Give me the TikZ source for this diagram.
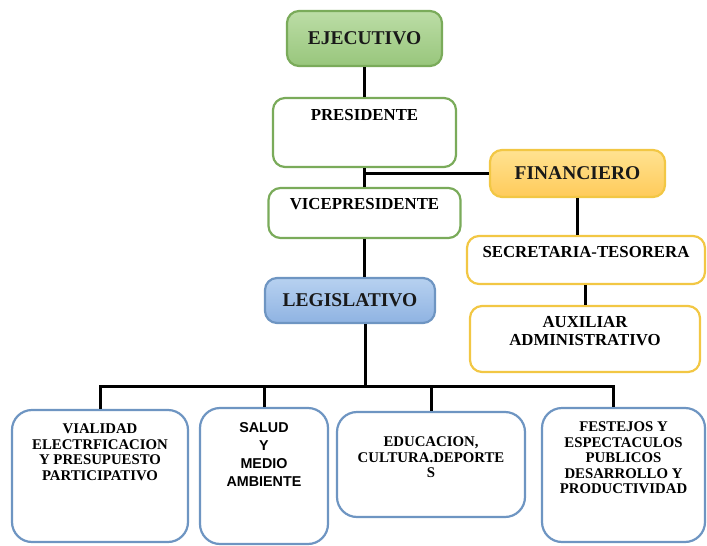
\documentclass[tikz,border=0pt]{standalone}
\usepackage{fontspec}
\setmainfont{Liberation Serif}
\newfontfamily\arialf{Liberation Sans}
\usepackage{tikz}
\usetikzlibrary{calc}
\usetikzlibrary{positioning}
\definecolor{grnline}{HTML}{7AAB5A}
\definecolor{grntop}{HTML}{BCDDA6}
\definecolor{grnbot}{HTML}{98C67C}
\definecolor{yelline}{HTML}{F2C744}
\definecolor{yeltop}{HTML}{FFE291}
\definecolor{yelbot}{HTML}{FFCB5A}
\definecolor{bluline}{HTML}{6E95C2}
\definecolor{blutop}{HTML}{B7D1F0}
\definecolor{blubot}{HTML}{8FB3E2}
\tikzset{
  org/.style={draw, line width=2.2pt, fill=white, rounded corners=12pt},
  grnbox/.style={org, draw=grnline},
  yelbox/.style={org, draw=yelline},
  blubox/.style={org, draw=bluline, rounded corners=20pt},
  head/.style={font=\bfseries\fontsize{19.5}{21}\selectfont, text=black!90},
  toptxt/.style={anchor=north, inner sep=0pt, align=center, font=\bfseries\fontsize{16.8}{18}\selectfont},
  smalltxt/.style={toptxt, font=\bfseries\fontsize{14.8}{15.5}\selectfont},
  conn/.style={line width=3pt, black}
}
\begin{document}
\begin{tikzpicture}[x=1pt,y=-1pt]
  \useasboundingbox (0,0) rectangle (707,546);
  % upper part
  \node[grnbox, head, top color=grntop, bottom color=grnbot, minimum width=155, minimum height=55] (ejec) at (364.5,38.5) {EJECUTIVO};
  \node[grnbox, minimum width=183, minimum height=69, label={[toptxt, yshift=-12]north:PRESIDENTE}] (pres) at (364.5,132.5) {};
  \node[grnbox, minimum width=192, minimum height=50, label={[toptxt, yshift=-11]north:VICEPRESIDENTE}] (vice) at (364.5,213) {};
  \node[yelbox, head, top color=yeltop, bottom color=yelbot, minimum width=175, minimum height=47] (fin) at (577.5,173.5) {FINANCIERO};
  \node[yelbox, minimum width=238, minimum height=48, label={[toptxt, yshift=-11]north:SECRETARIA-TESORERA}] (sec) at (586,260) {};
  \node[yelbox, minimum width=230, minimum height=66, label={[toptxt, yshift=-11]north:{AUXILIAR\\ADMINISTRATIVO}}] (aux) at (585,339) {};
  \node[org, draw=bluline, head, top color=blutop, bottom color=blubot, minimum width=170, minimum height=45] (legis) at (350,300.5) {LEGISLATIVO};
  % comisiones
  \node[blubox, minimum width=176, minimum height=132, label={[smalltxt, yshift=-15]north:{VIALIDAD\\ELECTRFICACION\\Y PRESUPUESTO\\PARTICIPATIVO}}] (b1) at (100,476) {};
  \node[blubox, minimum width=128, minimum height=136, label={[toptxt, yshift=-15, font=\arialf\bfseries\fontsize{14.3}{18}\selectfont]north:{SALUD\\Y\\MEDIO\\AMBIENTE}}] (b2) at (264,476) {};
  \node[blubox, minimum width=188, minimum height=105, label={[smalltxt, yshift=-26]north:{EDUCACION,\\CULTURA.DEPORTE\\S}}] (b3) at (431,464.5) {};
  \node[blubox, minimum width=163, minimum height=134, label={[smalltxt, yshift=-15]north:{FESTEJOS Y\\ESPECTACULOS\\PUBLICOS\\DESARROLLO Y\\PRODUCTIVIDAD}}] (b4) at (623.5,475) {};
  % conectores
  \coordinate (bus) at (365,386);
  \coordinate (busend) at (613,386);
  \draw[conn] (ejec) -- (pres);
  \draw[conn] (pres) -- (vice);
  \draw[conn] (pres.south |- fin.west) -- (fin.west);
  \draw[conn] (fin.south) -- (fin.south |- sec.north);
  \draw[conn] (aux.north) -- (aux.north |- sec.south);
  \draw[conn] (vice) -- (vice |- legis.north);
  \draw[conn] (legis.south -| bus) -- (bus);
  \draw[conn] (b1.north) |- (busend) -- (busend |- b4.north);
  \draw[conn] (b2.north) -- (b2.north |- bus);
  \draw[conn] (b3.north) -- (b3.north |- bus);
\end{tikzpicture}
\end{document}
